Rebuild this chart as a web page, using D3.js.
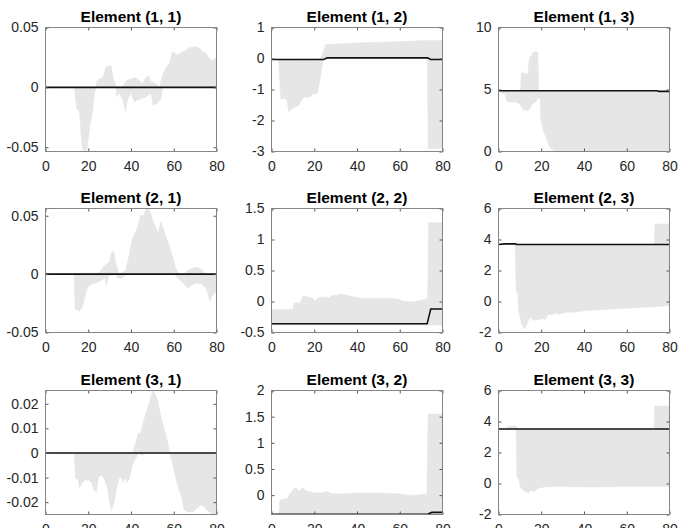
<!DOCTYPE html>
<html lang="en">
<head>
<meta charset="UTF-8">
<title>Element (i, j) bands</title>
<script src="https://d3js.org/d3.v7.min.js"></script>
<style>
  body { margin: 0; background: #fff; }
  svg { display: block; font-family: "Liberation Sans", Arial, Helvetica, sans-serif; }
</style>
</head>
<body>
<div id="chart"></div>
<script>
// x ticks shared by all panels
var xTicks = [0, 20, 40, 60, 80];

// Element (1, 1)
var med11 = [[0, 0], [80, 0]];
var up11 = [[0, 0], [23.5, 0], [24, 0.005], [25.2, 0.007], [26.8, 0.008], [28.3, 0.017], [30.7, 0.018], [31.4, 0.01], [32.2, 0.005], [33, 0.001], [36, 0.0], [38, 0.006], [40, 0.007], [42.3, 0.008], [45.4, 0.003], [47, 0.008], [48.2, 0.01], [49.3, 0.005], [51.7, 0.003], [53.2, 0.0], [54.8, 0.01], [56.3, 0.016], [57.9, 0.02], [59.5, 0.03], [61.8, 0.027], [63.4, 0.029], [65.7, 0.031], [67.2, 0.033], [70.3, 0.034], [71.9, 0.033], [73.4, 0.03], [75, 0.029], [76.6, 0.024], [78, 0.022], [80, 0.025]];
var lo11 = [[0, 0], [13.5, 0], [14.6, -0.018], [15.9, -0.02], [16.7, -0.04], [17.4, -0.052], [19.3, -0.053], [20.2, -0.04], [20.9, -0.03], [22, -0.02], [22.9, -0.005], [23.7, 0], [33, 0], [33.3, -0.008], [34.5, -0.005], [36.1, -0.01], [37.4, -0.02], [38.4, -0.01], [40, -0.005], [41.6, -0.012], [43.9, -0.01], [47, -0.008], [49.3, -0.005], [50.4, -0.015], [52.4, -0.013], [54, -0.01], [54.8, 0], [80, 0]];

// Element (1, 2)
var med12 = [[0, -0.03], [24.5, -0.03], [26, 0.02], [73, 0.02], [74.5, -0.03], [80, -0.03]];
var up12 = [[0, -0.03], [23, -0.02], [24.6, 0.3], [25.4, 0.45], [30, 0.47], [40, 0.5], [55, 0.53], [73, 0.58], [80, 0.57]];
var lo12 = [[0, -0.03], [3.3, -0.05], [4.4, -1.3], [6.6, -1.3], [7.2, -1.35], [8.2, -1.72], [9.8, -1.6], [11.4, -1.55], [13, -1.5], [14, -1.35], [15.3, -1.25], [16.8, -1.25], [18.4, -1.22], [19.2, -1.15], [21.5, -1.12], [23.1, -0.5], [24.2, 0], [25.5, 0.02], [73, 0.02], [73.3, -2.9], [80, -2.9]];

// Element (1, 3)
var med13 = [[0, 4.9], [74, 4.9], [75, 4.85], [80, 4.85]];
var up13 = [[0, 4.9], [10.3, 4.9], [10.6, 6.3], [11.4, 6.4], [12.5, 6.3], [13.6, 6.2], [14.5, 7.5], [15.6, 7.8], [16.4, 8.0], [17.6, 8.05], [18.4, 8.0], [18.8, 4.9], [74, 4.9], [75, 4.85], [80, 4.85]];
var lo13 = [[0, 4.9], [3.1, 4.6], [4.2, 4.0], [7.8, 4.0], [9.4, 3.9], [10.5, 3.7], [11.7, 3.35], [13.6, 3.3], [14.5, 3.4], [15.6, 3.8], [17.2, 4.0], [18.7, 4.3], [19.5, 4.3], [19.8, 2.6], [21, 1.7], [21.8, 1.35], [22.6, 0.95], [23.8, 0.4], [24.8, 0.2], [26.2, 0.07], [80, 0.02]];

// Element (2, 1)
var med21 = [[0, 0], [80, 0]];
var up21 = [[0, 0], [25, 0.001], [26.6, 0.005], [28.1, 0.008], [29.7, 0.01], [30.9, 0.018], [31.9, 0.02], [32.8, 0.01], [33.6, 0.005], [34.4, 0.0], [37.5, 0.003], [39, 0.015], [40.6, 0.03], [41.9, 0.035], [43, 0.04], [44.5, 0.05], [46.1, 0.05], [46.9, 0.055], [48.1, 0.056], [49.2, 0.052], [50.3, 0.045], [51.6, 0.04], [52.8, 0.035], [53.9, 0.045], [55, 0.04], [56.3, 0.032], [57.8, 0.025], [59.4, 0.015], [60.9, 0.005], [62.5, 0.0], [64.8, 0.0], [66.4, 0.003], [68.8, 0.005], [70.3, 0.006], [71.9, 0.005], [73.4, 0.003], [75, 0.0], [80, 0.0]];
var lo21 = [[0, 0], [13.5, 0], [13.8, -0.03], [14.8, -0.03], [15.9, -0.032], [17.2, -0.028], [18.4, -0.02], [19.5, -0.012], [20.6, -0.01], [21.9, -0.008], [23.4, -0.008], [25, -0.006], [26.6, -0.005], [27.8, -0.003], [28.4, -0.01], [29.4, -0.002], [31.3, 0], [32.8, 0], [33.6, -0.003], [35.2, -0.004], [36.7, -0.002], [38.3, 0], [60, 0], [61.7, -0.003], [63.3, -0.006], [64.8, -0.008], [66.4, -0.012], [68, -0.01], [70.3, -0.008], [72.7, -0.008], [74.2, -0.01], [75.8, -0.015], [76.9, -0.023], [78.1, -0.018], [80, -0.015]];

// Element (2, 2)
var med22 = [[0, -0.36], [72.8, -0.36], [74.5, -0.12], [80, -0.12]];
var up22 = [[0, -0.13], [10, -0.13], [10.4, -0.03], [13.5, -0.02], [14.6, 0.08], [15.8, 0.09], [17.3, 0.07], [18.6, 0.06], [19.7, 0.04], [20.4, 0.0], [21.2, 0.05], [23.5, 0.07], [25.1, 0.06], [25.9, 0.08], [26.6, 0.05], [27.9, 0.09], [29, 0.1], [30.5, 0.1], [32, 0.12], [34.4, 0.11], [37.5, 0.08], [40.6, 0.06], [43.7, 0.05], [56, 0.05], [59.1, 0.04], [62.2, 0.0], [65.3, -0.01], [67.6, 0.0], [70, 0.02], [73.1, 0.04], [73.5, 1.27], [80, 1.27]];
var lo22 = [[0, -0.38], [80, -0.38]];

// Element (2, 3)
var med23 = [[0, 3.68], [3, 3.72], [8, 3.72], [8.5, 3.68], [80, 3.68]];
var up23 = [[0, 3.68], [3, 3.72], [8, 3.72], [8.5, 3.68], [72.9, 3.68], [73.2, 5.0], [80, 5.0]];
var lo23 = [[0, 3.68], [7.8, 3.68], [8.3, 0.6], [9, 0.6], [9.4, -0.5], [10.9, -1.5], [12, -1.75], [12.9, -1.6], [14, -1.2], [14.8, -1.05], [16.4, -1.2], [18.3, -1.2], [20.3, -1.1], [21.8, -1.15], [23.4, -0.8], [25, -0.85], [26.5, -0.75], [28.9, -0.8], [31.2, -0.7], [35.1, -0.7], [39.8, -0.6], [44.5, -0.55], [50.7, -0.5], [56.9, -0.45], [63.2, -0.4], [71, -0.35], [75.7, -0.3], [80, -0.25]];

// Element (3, 1)
var med31 = [[0, 0], [80, 0]];
var up31 = [[0, 0], [40.6, 0], [41.4, 0.002], [42.2, 0.004], [43.4, 0.008], [44.5, 0.008], [45.6, 0.012], [46.9, 0.016], [48.4, 0.02], [49.7, 0.024], [50.3, 0.0254], [51.3, 0.024], [52.3, 0.022], [53.9, 0.015], [55.5, 0.01], [57, 0.005], [58.1, 0], [80, 0]];
var lo31 = [[0, 0], [13.5, 0], [14, -0.01], [15.3, -0.011], [15.9, -0.014], [17.2, -0.012], [18.4, -0.011], [20, -0.011], [21.6, -0.012], [22.7, -0.015], [23.8, -0.016], [24.7, -0.01], [25.8, -0.009], [27.3, -0.01], [28.9, -0.014], [30, -0.02], [30.9, -0.0235], [32, -0.02], [33.1, -0.015], [34.4, -0.01], [35.6, -0.01], [36.3, -0.012], [37.2, -0.01], [38.3, -0.012], [39.4, -0.01], [40.6, -0.005], [42.2, -0.002], [43.8, 0], [45, -0.001], [46.9, 0], [58, 0], [59.4, -0.004], [60.9, -0.01], [62.5, -0.015], [63.8, -0.018], [64.8, -0.023], [66.4, -0.024], [68.8, -0.024], [70.3, -0.023], [72.7, -0.021], [74.2, -0.022], [76.6, -0.024], [78.9, -0.025], [80, -0.025]];

// Element (3, 2)
var med32 = [[0, -0.365], [73, -0.365], [75, -0.33], [80, -0.33]];
var up32 = [[0, -0.37], [3.5, -0.37], [3.9, -0.1], [5.4, -0.08], [7, -0.07], [7.8, -0.05], [8.5, 0.03], [9.3, 0.05], [10.1, 0.1], [11.2, 0.15], [12.1, 0.1], [13.2, 0.08], [14.3, 0.13], [15.2, 0.12], [16.3, 0.08], [17.9, 0.07], [19.4, 0.05], [21.7, 0.04], [24.1, 0.05], [25.6, 0.07], [26.7, 0.06], [28, 0.03], [31.1, 0.02], [35.7, 0.03], [40.4, 0.04], [49.7, 0.04], [55.9, 0.03], [60.6, 0.02], [64.4, 0.0], [67.5, 0.0], [70.6, 0.01], [72.7, 0.02], [73.3, 1.55], [80, 1.55]];
var lo32 = [[0, -0.37], [80, -0.37]];

// Element (3, 3)
var med33 = [[0, 3.52], [80, 3.52]];
var up33 = [[0, 3.52], [3.9, 3.52], [4.2, 3.7], [8.5, 3.7], [8.7, 3.52], [72.8, 3.52], [73.1, 5.0], [80, 5.0]];
var lo33 = [[0, 3.52], [8.3, 3.52], [8.6, 0.4], [9.4, 0.3], [10.1, -0.2], [11.4, -0.4], [12.5, -0.5], [14, -0.6], [15.1, -0.45], [16.4, -0.5], [17.6, -0.4], [18.7, -0.3], [20.3, -0.25], [22.6, -0.2], [32, -0.2], [39.8, -0.22], [47.6, -0.22], [55.4, -0.2], [80, -0.2]];

var panels = [
    {title: "Element (1, 1)", row: 0, col: 0, yDom: [-0.0536, 0.05], yTicks: [-0.05, 0, 0.05], up: up11, lo: lo11, med: med11},
    {title: "Element (1, 2)", row: 0, col: 1, yDom: [-3, 1], yTicks: [-3, -2, -1, 0, 1], up: up12, lo: lo12, med: med12},
    {title: "Element (1, 3)", row: 0, col: 2, yDom: [0, 10], yTicks: [0, 5, 10], up: up13, lo: lo13, med: med13},
    {title: "Element (2, 1)", row: 1, col: 0, yDom: [-0.05, 0.0562], yTicks: [-0.05, 0, 0.05], up: up21, lo: lo21, med: med21},
    {title: "Element (2, 2)", row: 1, col: 1, yDom: [-0.5, 1.5], yTicks: [-0.5, 0, 0.5, 1, 1.5], up: up22, lo: lo22, med: med22},
    {title: "Element (2, 3)", row: 1, col: 2, yDom: [-2, 6], yTicks: [-2, 0, 2, 4, 6], up: up23, lo: lo23, med: med23},
    {title: "Element (3, 1)", row: 2, col: 0, yDom: [-0.025, 0.0254], yTicks: [-0.02, -0.01, 0, 0.01, 0.02], up: up31, lo: lo31, med: med31},
    {title: "Element (3, 2)", row: 2, col: 1, yDom: [-0.37, 2], yTicks: [0, 0.5, 1, 1.5, 2], up: up32, lo: lo32, med: med32},
    {title: "Element (3, 3)", row: 2, col: 2, yDom: [-2, 6], yTicks: [-2, 0, 2, 4, 6], up: up33, lo: lo33, med: med33}
];

var width = 679, height = 528;
var colX = [45.5, 271.5, 498.5];
var rowY = [27.5, 208.5, 390.5];
var pw = 171, ph = 124;
var axisColor = "#858585";
var textColor = "#262626";

var svg = d3.select("#chart").append("svg")
    .attr("width", width)
    .attr("height", height);

function fmt(d) {
    return String(+d.toFixed(4));
}

function styleAxis(sel) {
    sel.select(".domain").remove();
    sel.selectAll(".tick line").attr("stroke", "#555");
    sel.selectAll(".tick text")
        .attr("fill", textColor)
        .style("font-size", "14px");
}

panels.forEach(function(p, i) {
    var g = svg.append("g")
        .attr("transform", "translate(" + colX[p.col] + "," + rowY[p.row] + ")");

    var x = d3.scaleLinear().domain([0, 80]).range([0, pw]);
    var y = d3.scaleLinear().domain(p.yDom).range([ph, 0]);

    g.append("clipPath").attr("id", "clip" + i)
        .append("rect").attr("width", pw).attr("height", ph);

    var line = d3.line()
        .x(function(d) { return x(d[0]); })
        .y(function(d) { return y(d[1]); });

    // shaded band: upper edge forward, lower edge back
    g.append("path")
        .datum(p.up.concat(p.lo.slice().reverse()))
        .attr("clip-path", "url(#clip" + i + ")")
        .attr("d", function(d) { return line(d) + "Z"; })
        .attr("fill", "#e6e6e6")
        .attr("stroke", "#e6e6e6")
        .attr("stroke-width", 0.6);

    g.append("path")
        .datum(p.med)
        .attr("clip-path", "url(#clip" + i + ")")
        .attr("d", line)
        .attr("fill", "none")
        .attr("stroke", "#111")
        .attr("stroke-width", 1.6);

    g.append("g")
        .attr("transform", "translate(0," + ph + ")")
        .call(d3.axisBottom(x).tickValues(xTicks).tickSizeInner(-3).tickSizeOuter(0).tickPadding(10).tickFormat(fmt))
        .call(styleAxis);

    g.append("g")
        .call(d3.axisLeft(y).tickValues(p.yTicks).tickSizeInner(-3).tickSizeOuter(0).tickPadding(7).tickFormat(fmt))
        .call(styleAxis);

    g.append("g")
        .call(d3.axisTop(x).tickValues(xTicks).tickSizeInner(-3).tickSizeOuter(0).tickFormat(""))
        .call(styleAxis);

    g.append("g")
        .attr("transform", "translate(" + pw + ",0)")
        .call(d3.axisRight(y).tickValues(p.yTicks).tickSizeInner(-3).tickSizeOuter(0).tickFormat(""))
        .call(styleAxis);

    g.append("rect")
        .attr("width", pw)
        .attr("height", ph)
        .attr("fill", "none")
        .attr("stroke", axisColor)
        .attr("stroke-width", 1);

    g.append("text")
        .attr("x", pw / 2)
        .attr("y", -6)
        .attr("text-anchor", "middle")
        .style("font-size", "15.5px")
        .style("font-weight", "bold")
        .attr("fill", "#000")
        .text(p.title);
});
</script>
</body>
</html>
